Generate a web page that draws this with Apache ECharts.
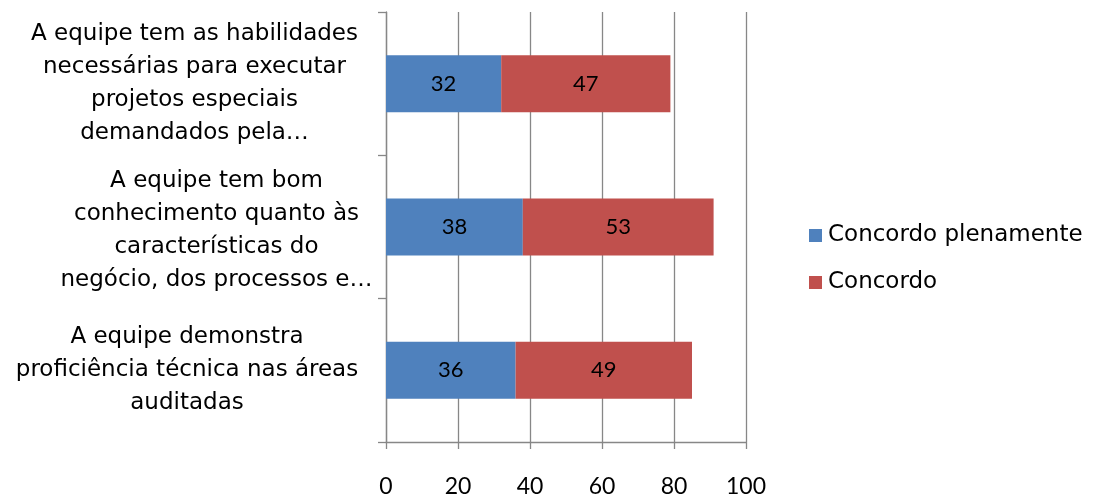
<!DOCTYPE html>
<html>
<head>
<meta charset="utf-8">
<script src="https://cdn.jsdelivr.net/npm/echarts@6/dist/echarts.min.js"></script>
<style>
  html, body { margin: 0; padding: 0; background: #fff; }
  #chart { width: 1094px; height: 494px; }
</style>
</head>
<body>
<div id="chart"></div>
<script>
// Categories listed top to bottom (y axis is inverted)
const categories = [
  'A equipe tem as habilidades\nnecessárias para executar\nprojetos especiais\ndemandados pela…',
  'A equipe tem bom\nconhecimento quanto às\ncaracterísticas do\nnegócio, dos processos e…',
  'A equipe demonstra\nproficiência técnica nas áreas\nauditadas'
];
const seriesNames = ['Concordo plenamente', 'Concordo'];
const concordoPlenamente = [32, 38, 36];
const concordo = [47, 53, 49];
const xTicks = [0, 20, 40, 60, 80, 100];

// per-label rich style keys so each wrapped block sits in its own column
const labelStyleKeys = ['a', 'b', 'c'];

const chart = echarts.init(document.getElementById('chart'), null, { renderer: 'canvas' });

const gridColor = '#878787';
const labelFont = '"DejaVu Sans", "Liberation Sans", sans-serif';
const numFont = 'Lato, "Open Sans", sans-serif';
const labelBase = { align: 'center', fontFamily: labelFont, fontSize: 23, lineHeight: 33, color: '#000' };

chart.setOption({
  animation: false,
  backgroundColor: '#ffffff',
  grid: { left: 386, right: 348, top: 12, bottom: 52, containLabel: false, outerBoundsMode: 'none' },
  legend: {
    orient: 'vertical',
    left: 804,
    top: 219,
    itemWidth: 13,
    itemHeight: 13,
    itemGap: 24,
    icon: 'rect',
    textStyle: { fontFamily: labelFont, fontSize: 23, color: '#000', padding: [0, 0, 0, 1] },
    data: seriesNames
  },
  xAxis: {
    type: 'value',
    min: xTicks[0],
    max: xTicks[xTicks.length - 1],
    interval: 20,
    axisLine: { show: true, lineStyle: { color: gridColor, width: 1.3 } },
    axisTick: { show: true, length: 7, lineStyle: { color: gridColor, width: 1.3 } },
    splitLine: { show: true, lineStyle: { color: gridColor, width: 1.3 } },
    axisLabel: { margin: 33, fontFamily: numFont, fontSize: 23, color: '#000' }
  },
  yAxis: {
    type: 'category',
    inverse: true,
    data: categories,
    axisLine: { show: true, lineStyle: { color: gridColor, width: 1.3 } },
    axisTick: { show: true, length: 8, lineStyle: { color: gridColor, width: 1.3 } },
    axisLabel: {
      margin: 4,
      align: 'right',
      formatter: function (value, idx) {
        const key = labelStyleKeys[idx];
        return value.split('\n').map(l => '{' + key + '|' + l + '}').join('\n');
      },
      rich: {
        a: Object.assign({ width: 375 }, labelBase),
        b: Object.assign({ width: 331, padding: [8, 0, 0, 0] }, labelBase),
        c: Object.assign({ width: 390 }, labelBase)
      }
    }
  },
  series: [
    {
      name: seriesNames[0],
      type: 'bar',
      stack: 'total',
      barWidth: 57,
      itemStyle: { color: '#4F81BD' },
      label: { show: true, position: 'inside', fontFamily: numFont, fontSize: 22, color: '#000' },
      data: concordoPlenamente
    },
    {
      name: seriesNames[1],
      type: 'bar',
      stack: 'total',
      barWidth: 57,
      itemStyle: { color: '#C0504D' },
      label: { show: true, position: 'inside', fontFamily: numFont, fontSize: 22, color: '#000' },
      data: concordo
    }
  ]
});
</script>
</body>
</html>
